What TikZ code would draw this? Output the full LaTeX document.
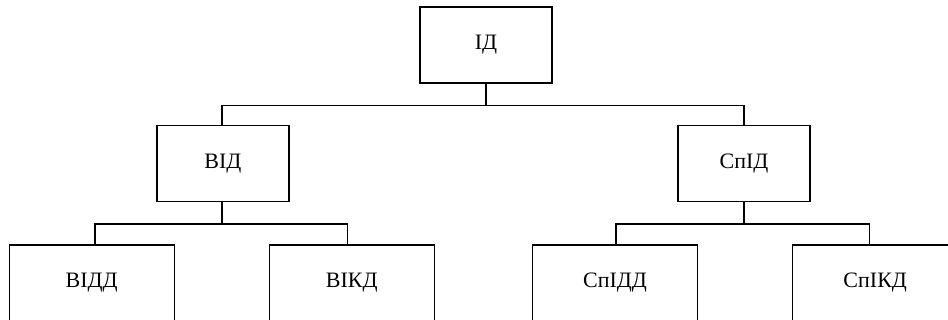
\documentclass[tikz,border=0pt]{standalone}
\usepackage{fontspec}
\setmainfont{Liberation Serif}
\begin{document}
\begin{tikzpicture}[x=1pt,y=-1pt,
  box/.style={draw,line width=1.1pt,minimum width=132pt,minimum height=76pt,inner sep=0pt,font=\fontsize{22}{26}\selectfont},
  wbox/.style={box,minimum width=165pt},
  conn/.style={line width=1.1pt}]
\useasboundingbox (0,0) rectangle (948,320);
\clip (0,0) rectangle (948,320);
\node[box] (ID) at (486,45) {ІД};
\node[box] (VID) at (223,163.5) {ВІД};
\node[box] (SpID) at (744,163.5) {СпІД};
\node[wbox] (VIDD) at (91.7,283) {ВІДД};
\node[wbox] (VIKD) at (351.7,283) {ВІКД};
\node[wbox] (SpIDD) at (615,283) {СпІДД};
\node[wbox] (SpIKD) at (875.2,283) {СпІКД};
\draw[conn] (ID.south) -- ++(0,22) -| ([xshift=-1pt]VID.north);
\draw[conn] (ID.south) ++(0,22) -| (SpID.north);
\draw[conn] ([xshift=-1pt]VID.south) -- ++(0,22) -| ([xshift=3.3pt]VIDD.north);
\draw[conn] ([xshift=-1pt]VID.south) ++(0,22) -| ([xshift=-4pt]VIKD.north);
\draw[conn] (SpID.south) -- ++(0,22) -| ([xshift=1pt]SpIDD.north);
\draw[conn] (SpID.south) ++(0,22) -| ([xshift=-6pt]SpIKD.north);
\end{tikzpicture}
\end{document}
